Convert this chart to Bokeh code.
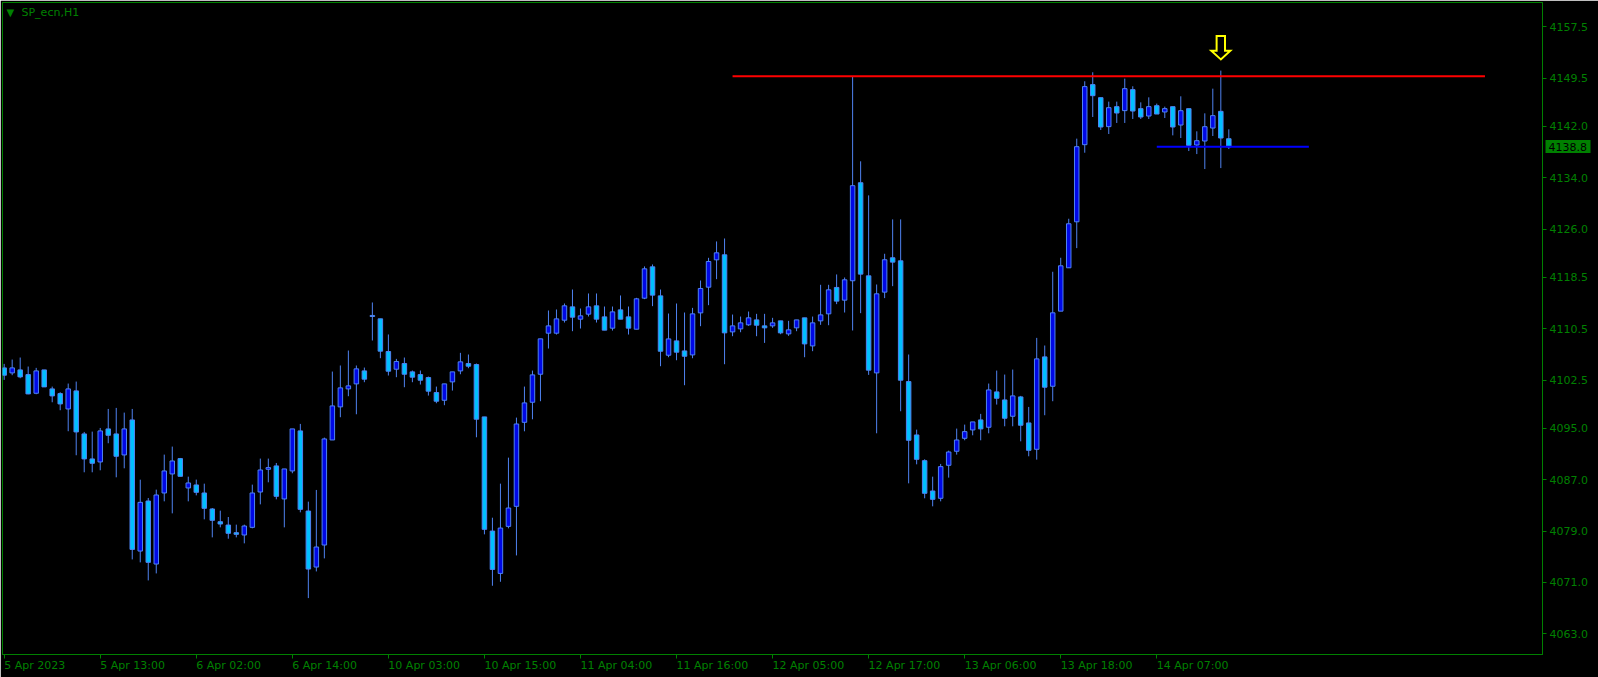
from bokeh.plotting import figure
from bokeh.models import Range1d, FixedTicker, Label, NumeralTickFormatter, LinearAxis
from bokeh.embed import file_html
from bokeh.resources import INLINE

# ---------------- data ----------------
opens = [4104.40, 4103.62, 4104.09, 4103.36, 4100.45, 4104.09, 4101.13, 4100.40, 4098.01, 4100.82,
         4094.12, 4090.23, 4089.76, 4094.90, 4094.12, 4090.85, 4096.30, 4075.89, 4083.68, 4073.87,
         4084.93, 4087.89, 4090.28, 4085.71, 4086.18, 4084.93, 4082.44, 4080.46, 4079.94, 4078.75,
         4078.39, 4079.58, 4085.08, 4088.62, 4089.14, 4084.00, 4088.36, 4094.59, 4082.12, 4073.40,
         4076.83, 4093.18, 4098.33, 4101.13, 4101.91, 4103.93, 4112.56, 4112.04, 4106.95, 4104.19,
         4105.08, 4103.78, 4103.36, 4102.90, 4100.56, 4099.36, 4102.22, 4103.93, 4105.08, 4104.92,
         4096.77, 4079.00, 4072.41, 4079.73, 4082.85, 4095.93, 4099.05, 4103.41, 4109.80, 4109.80,
         4111.82, 4113.90, 4111.98, 4112.76, 4114.06, 4112.34, 4110.58, 4113.43, 4112.34, 4110.42,
         4115.25, 4120.13, 4115.61, 4106.37, 4108.60, 4107.04, 4106.42, 4112.96, 4116.96, 4121.22,
         4122.00, 4110.00, 4110.47, 4111.10, 4111.87, 4110.94, 4110.94, 4111.72, 4109.69, 4110.63,
         4112.19, 4107.82, 4111.72, 4112.81, 4116.92, 4114.94, 4117.96, 4133.22, 4118.73, 4103.62,
         4116.19, 4121.54, 4121.07, 4102.27, 4093.96, 4089.96, 4085.24, 4084.10, 4089.24, 4091.42,
         4093.44, 4094.74, 4096.30, 4095.16, 4100.66, 4099.41, 4096.87, 4099.88, 4095.83, 4091.73,
         4106.11, 4101.54, 4113.23, 4119.98, 4127.14, 4139.14, 4148.49, 4146.46, 4141.95, 4145.06,
         4144.44, 4147.71, 4144.75, 4143.60, 4145.21, 4144.23, 4145.06, 4142.20, 4144.75, 4139.09,
         4139.71, 4141.73, 4144.33, 4140.07]
highs = [4105.02, 4105.70, 4106.01, 4104.61, 4104.40, 4104.09, 4101.49, 4100.61, 4101.96, 4102.27,
         4094.43, 4094.48, 4095.05, 4098.01, 4098.17, 4097.44, 4098.01, 4087.00, 4084.15, 4085.45,
         4090.90, 4092.15, 4090.38, 4087.47, 4087.01, 4086.38, 4082.59, 4082.18, 4081.19, 4080.00,
         4080.00, 4086.23, 4090.28, 4090.28, 4089.60, 4088.67, 4094.90, 4095.68, 4083.58, 4085.40,
         4093.55, 4103.83, 4104.77, 4107.10, 4104.77, 4104.45, 4114.58, 4112.04, 4109.60, 4105.80,
         4106.01, 4103.99, 4103.99, 4103.05, 4101.49, 4101.91, 4103.78, 4106.74, 4106.48, 4105.08,
         4096.77, 4081.08, 4086.38, 4090.43, 4096.66, 4101.49, 4103.98, 4108.92, 4113.33, 4113.49,
         4114.42, 4116.60, 4113.64, 4115.98, 4115.98, 4113.95, 4113.95, 4115.67, 4113.95, 4115.30,
         4120.19, 4120.50, 4116.60, 4112.86, 4114.42, 4113.02, 4113.74, 4118.00, 4121.53, 4124.08,
         4124.54, 4112.70, 4112.39, 4113.17, 4112.81, 4112.81, 4112.19, 4111.72, 4111.72, 4111.87,
         4112.19, 4112.39, 4117.33, 4117.33, 4118.94, 4118.47, 4149.80, 4136.55, 4131.25, 4117.38,
         4122.16, 4127.51, 4127.51, 4106.48, 4094.79, 4090.17, 4087.47, 4089.45, 4091.52, 4094.95,
         4095.57, 4095.99, 4097.24, 4101.96, 4103.98, 4103.36, 4104.14, 4100.04, 4098.32, 4109.07,
         4107.88, 4119.36, 4121.54, 4127.61, 4140.08, 4149.01, 4150.41, 4146.46, 4145.84, 4145.84,
         4149.42, 4148.23, 4145.73, 4146.51, 4145.53, 4145.06, 4145.06, 4146.67, 4144.75, 4141.22,
         4144.02, 4147.86, 4150.67, 4141.53]
lows = [4102.53, 4103.26, 4102.79, 4100.30, 4100.30, 4101.44, 4099.05, 4097.81, 4094.54, 4090.80,
        4088.15, 4088.15, 4088.46, 4092.67, 4087.37, 4088.77, 4074.59, 4074.13, 4071.32, 4072.41,
        4083.63, 4081.76, 4087.52, 4083.63, 4084.56, 4080.83, 4078.02, 4079.58, 4077.81, 4078.02,
        4077.09, 4079.43, 4083.16, 4086.59, 4083.94, 4079.58, 4088.00, 4081.92, 4068.57, 4072.72,
        4074.75, 4093.18, 4096.72, 4099.99, 4097.18, 4102.17, 4108.66, 4105.91, 4103.21, 4102.95,
        4101.39, 4102.17, 4101.81, 4100.09, 4098.90, 4098.59, 4100.87, 4103.41, 4104.35, 4093.60,
        4078.49, 4070.49, 4071.11, 4079.42, 4075.21, 4094.53, 4096.40, 4099.21, 4107.41, 4109.59,
        4111.46, 4110.11, 4110.53, 4112.40, 4111.46, 4110.27, 4110.21, 4111.98, 4109.59, 4110.42,
        4115.10, 4114.01, 4104.66, 4106.06, 4105.59, 4101.70, 4105.90, 4110.89, 4114.16, 4118.21,
        4104.97, 4109.33, 4109.95, 4110.94, 4109.33, 4108.29, 4110.63, 4109.64, 4109.38, 4110.11,
        4106.06, 4107.00, 4111.10, 4111.04, 4114.32, 4113.02, 4110.22, 4112.92, 4103.31, 4094.22,
        4115.26, 4117.12, 4097.65, 4086.43, 4089.39, 4084.10, 4082.85, 4083.63, 4087.32, 4090.90,
        4093.13, 4093.91, 4093.13, 4094.22, 4098.69, 4095.31, 4095.31, 4092.97, 4090.64, 4090.12,
        4097.03, 4099.21, 4113.23, 4119.98, 4123.04, 4137.89, 4143.45, 4141.43, 4140.80, 4142.52,
        4142.52, 4143.14, 4143.14, 4143.14, 4143.91, 4143.29, 4140.59, 4140.18, 4138.15, 4137.68,
        4135.35, 4140.49, 4135.50, 4138.46]
closes = [4103.26, 4104.40, 4103.00, 4100.35, 4103.93, 4101.44, 4100.04, 4098.79, 4101.13, 4094.43,
          4090.23, 4089.55, 4094.59, 4093.91, 4090.64, 4094.90, 4076.15, 4083.47, 4074.13, 4084.62,
          4088.36, 4089.91, 4087.52, 4086.49, 4085.03, 4082.54, 4080.67, 4080.10, 4078.65, 4078.49,
          4079.79, 4084.93, 4088.51, 4088.88, 4084.41, 4088.67, 4094.90, 4082.38, 4073.09, 4076.52,
          4093.34, 4098.48, 4101.29, 4101.60, 4104.25, 4102.64, 4112.40, 4107.00, 4103.88, 4105.39,
          4103.41, 4102.95, 4102.48, 4100.77, 4099.21, 4101.91, 4103.78, 4105.34, 4104.66, 4096.41,
          4079.27, 4073.03, 4079.47, 4082.59, 4095.67, 4098.95, 4103.31, 4108.92, 4110.94, 4112.03,
          4114.06, 4112.29, 4112.50, 4113.90, 4111.98, 4110.27, 4113.12, 4111.98, 4110.58, 4115.15,
          4119.82, 4115.72, 4106.99, 4108.91, 4106.84, 4106.21, 4112.81, 4116.76, 4120.96, 4122.31,
          4109.85, 4110.94, 4111.41, 4112.19, 4111.04, 4110.63, 4111.41, 4109.85, 4110.32, 4111.87,
          4108.13, 4111.41, 4112.65, 4116.55, 4114.79, 4118.11, 4132.76, 4118.99, 4104.04, 4115.93,
          4121.23, 4120.86, 4102.48, 4093.13, 4090.17, 4084.88, 4083.94, 4089.03, 4091.31, 4093.18,
          4094.48, 4095.99, 4094.90, 4100.97, 4099.67, 4096.56, 4100.04, 4095.47, 4091.57, 4105.80,
          4101.39, 4112.97, 4120.29, 4126.83, 4138.83, 4148.18, 4146.77, 4141.89, 4144.90, 4144.07,
          4147.86, 4144.38, 4143.45, 4145.06, 4143.91, 4144.75, 4141.89, 4144.43, 4139.03, 4139.76,
          4141.94, 4143.66, 4140.18, 4138.80]

tick_bars = [0, 12, 24, 36, 48, 60, 72, 84, 96, 108, 120, 132, 144]
tick_labels = ["5 Apr 2023", "5 Apr 13:00", "6 Apr 02:00", "6 Apr 14:00", "10 Apr 03:00",
               "10 Apr 15:00", "11 Apr 04:00", "11 Apr 16:00", "12 Apr 05:00", "12 Apr 17:00",
               "13 Apr 06:00", "13 Apr 18:00", "14 Apr 07:00"]
price_ticks = [4157.5, 4149.5, 4142.0, 4134.0, 4126.0, 4118.5, 4110.5, 4102.5,
               4095.0, 4087.0, 4079.0, 4071.0, 4063.0]

resistance_price = [4149.8]
resistance_from = [91]
resistance_to = [185]
support_price = [4138.8]
support_from = [144]
support_to = [163]
arrow_bar = 152
arrow_price = 4152.2
last_price = 4138.8
symbol_text = "SP_ecn,H1"

# ---------------- styling / geometry ----------------
GREEN = "#008000"
WICK = "#4f82f0"
BULL = "#0008e6"
BEAR = "#00bfff"
FONT = "DejaVu Sans"
FONT_PX = 11

W, H = 1598, 677
B_LEFT, B_RIGHT, B_TOP, B_BOTTOM = 2, 56, 2, 23
X0, X1 = -0.21, 192.19
Y0, Y1 = 4059.79, 4161.27
px_per_bar = (W - B_LEFT - B_RIGHT) / (X1 - X0)
px_per_pt = (H - B_TOP - B_BOTTOM) / (Y1 - Y0)

# DejaVu Sans advance widths (em)
_EM = {"0": 0.636, "1": 0.636, "2": 0.636, "3": 0.636, "4": 0.636, "5": 0.636,
       "6": 0.636, "7": 0.636, "8": 0.636, "9": 0.636, " ": 0.318, ":": 0.337,
       ".": 0.318, "A": 0.684, "p": 0.635, "r": 0.411}


def text_px(s):
    return sum(_EM.get(ch, 0.6) for ch in s) * FONT_PX


n = len(opens)
xs = list(range(n))
tops = [max(o, c) for o, c in zip(opens, closes)]
bots = [min(o, c) for o, c in zip(opens, closes)]
fills = [BULL if c >= o else BEAR for o, c in zip(opens, closes)]

p = figure(width=W, height=H, output_backend="svg", toolbar_location=None,
           x_range=Range1d(X0, X1), y_range=Range1d(Y0, Y1),
           y_axis_location="right",
           min_border_left=B_LEFT, min_border_top=B_TOP,
           min_border_right=B_RIGHT, min_border_bottom=B_BOTTOM,
           background_fill_color="black", border_fill_color="black",
           outline_line_color=GREEN)

p.grid.visible = False

# x axis: tick marks only
xa = p.xaxis[0]
xa.ticker = FixedTicker(ticks=tick_bars)
xa.major_label_overrides = {b: "" for b in tick_bars}
xa.major_label_text_font_size = "1px"
xa.major_label_standoff = 0
# second x axis: labels starting at each tick (label centre shifted right)
label_pos = [b + text_px(t) / 2 / px_per_bar for b, t in zip(tick_bars, tick_labels)]
xl = LinearAxis(ticker=FixedTicker(ticks=label_pos),
                major_label_overrides={lp: t for lp, t in zip(label_pos, tick_labels)})
xl.axis_line_color = None
xl.major_tick_line_color = None
xl.major_tick_in = 0
xl.major_tick_out = 0
xl.minor_tick_line_color = None
xl.major_label_standoff = 0
xl.major_label_text_color = GREEN
xl.major_label_text_font = FONT
xl.major_label_text_font_size = f"{FONT_PX}px"
p.add_layout(xl, "below")

ya = p.yaxis[0]
ya.ticker = FixedTicker(ticks=price_ticks)
ya.formatter = NumeralTickFormatter(format="0.0")
for ax in (xa, ya):
    ax.axis_line_color = GREEN
    ax.major_tick_line_color = GREEN
    ax.minor_tick_line_color = None
    ax.major_tick_in = 0
    ax.major_tick_out = 4
    ax.major_label_text_color = GREEN
    ax.major_label_text_font = FONT
ya.major_label_text_font_size = f"{FONT_PX}px"
ya.major_label_standoff = 3

# current price tag: an outer right axis whose single (thick, inward) tick is the
# green box, with its label pulled back over it
tag_w = 45
tag_label = f"{last_price:.1f}"
tag = LinearAxis(ticker=FixedTicker(ticks=[last_price]),
                 major_label_overrides={last_price: tag_label})
tag.axis_line_color = None
tag.minor_tick_line_color = None
tag.major_tick_line_color = GREEN
tag.major_tick_line_width = 13
tag.major_tick_line_cap = "butt"
tag.major_tick_out = 0
tag.major_tick_in = tag_w
tag.major_label_standoff = -int(round((tag_w + text_px(tag_label)) / 2))
tag.major_label_text_color = "black"
tag.major_label_text_font = FONT
tag.major_label_text_font_size = f"{FONT_PX}px"
p.add_layout(tag, "right")

# candles
p.segment(x0=xs, y0=lows, x1=xs, y1=highs, line_color=WICK, line_width=1)
p.vbar(x=xs, width=0.56, top=tops, bottom=bots, fill_color=fills, line_color=WICK, line_width=1)

# horizontal levels
p.segment(x0=resistance_from, y0=resistance_price, x1=resistance_to, y1=resistance_price,
          line_color="#ff0000", line_width=2)
p.segment(x0=support_from, y0=support_price, x1=support_to, y1=support_price,
          line_color="#0000ff", line_width=2)

# hollow down arrow (shape given in pixels around the tip, converted to data)
shape_px = [(0, 1.4), (-9.5, 10), (-4.2, 10), (-4.2, 24.7), (4.2, 24.7), (4.2, 10), (9.5, 10)]
ax_pts = [arrow_bar + dx / px_per_bar for dx, dy in shape_px]
ay_pts = [arrow_price + dy / px_per_pt for dx, dy in shape_px]
p.patch(ax_pts, ay_pts, fill_color="black", line_color="#ffff00", line_width=2,
        line_join="miter")

# symbol label (top-left corner of the frame)
p.add_layout(Label(x=X0 + 4 / px_per_bar, y=Y1 - 10 / px_per_pt, text="\u25bc",
                   text_color=GREEN, text_font=FONT, text_font_size="10px",
                   text_baseline="middle"))
p.add_layout(Label(x=X0 + 19 / px_per_bar, y=Y1 - 10 / px_per_pt, text=symbol_text,
                   text_color=GREEN, text_font=FONT, text_font_size="11px",
                   text_baseline="middle"))

open("out.html", "w").write(file_html(p, INLINE))
